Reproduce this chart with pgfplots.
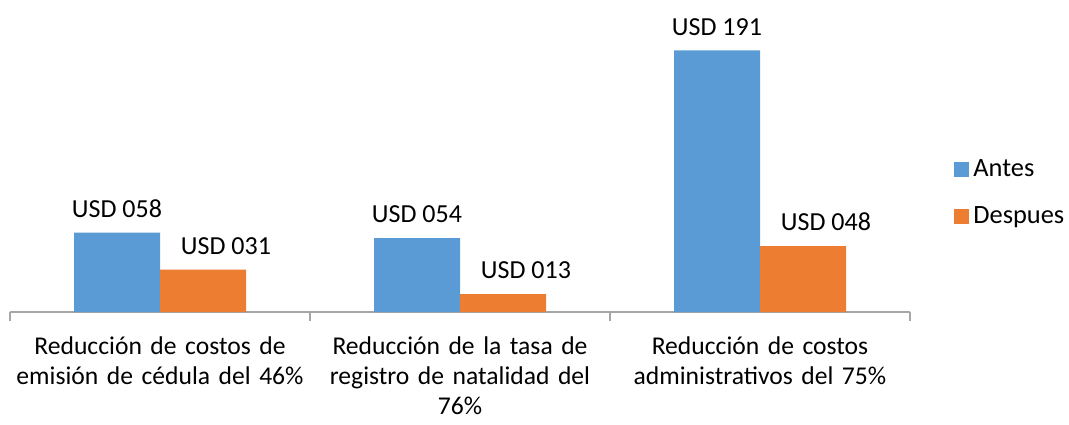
\documentclass[border=0pt]{standalone}
\usepackage{pgfplots}
\pgfplotsset{compat=1.18}
\usepackage{fontspec}
\setmainfont{Carlito}
\definecolor{cblue}{HTML}{5B9BD5}
\definecolor{corange}{HTML}{ED7D31}
\definecolor{axgray}{HTML}{A6A6A6}
\begin{document}
\begin{tikzpicture}[x=1pt,y=1pt]
\begin{axis}[
  at={(5pt,56pt)}, anchor=south west,
  scale only axis, width=450pt, height=137pt,
  xmin=-0.5, xmax=2.5, ymin=0, ymax=200,
  ybar=0pt, bar width=43pt,
  axis y line=none,
  axis x line*=bottom,
  x axis line style={axgray, line width=0.6pt},
  xtick={0,1,2},
  xticklabels={{Reducción de costos de\\emisión de cédula del 46\%},{Reducción de la tasa de\\registro de natalidad del\\76\%},{Reducción de costos\\administrativos del 75\%}},
  x tick label style={align=center, text width=150pt, font=\fontsize{12.8}{15}\selectfont, yshift=-11pt, inner sep=1pt},
  major tick length=0pt,
  minor xtick={-0.5,0.5,1.5,2.5},
  minor tick length=4.5pt,
  xtick align=outside,
  minor x tick style={axgray, line width=0.6pt},
  point meta=explicit symbolic,
  nodes near coords={USD \pgfplotspointmeta},
  nodes near coords style={font=\fontsize{13}{15}\selectfont, text=black, yshift=4pt},
  legend style={at={(1,0.434)}, anchor=west, xshift=19pt, draw=none, fill=none,
    font=\fontsize{13.2}{15}\selectfont, row sep=9.5pt, legend cell align=left},
  legend image code/.code={\fill[#1] (0pt,-3.75pt) rectangle (7.5pt,3.75pt);},
]
\addplot[fill=cblue, draw=none] coordinates {(0,58) [058] (1,54) [054] (2,191) [191]};
\addplot[fill=corange, draw=none, every node near coord/.append style={xshift=11.5pt}] coordinates {(0,31) [031] (1,13) [013] (2,48) [048]};
\legend{Antes, Despues}
\end{axis}
\pgfresetboundingbox
\path (0,0) rectangle (534.5pt,212pt);
\end{tikzpicture}
\end{document}
